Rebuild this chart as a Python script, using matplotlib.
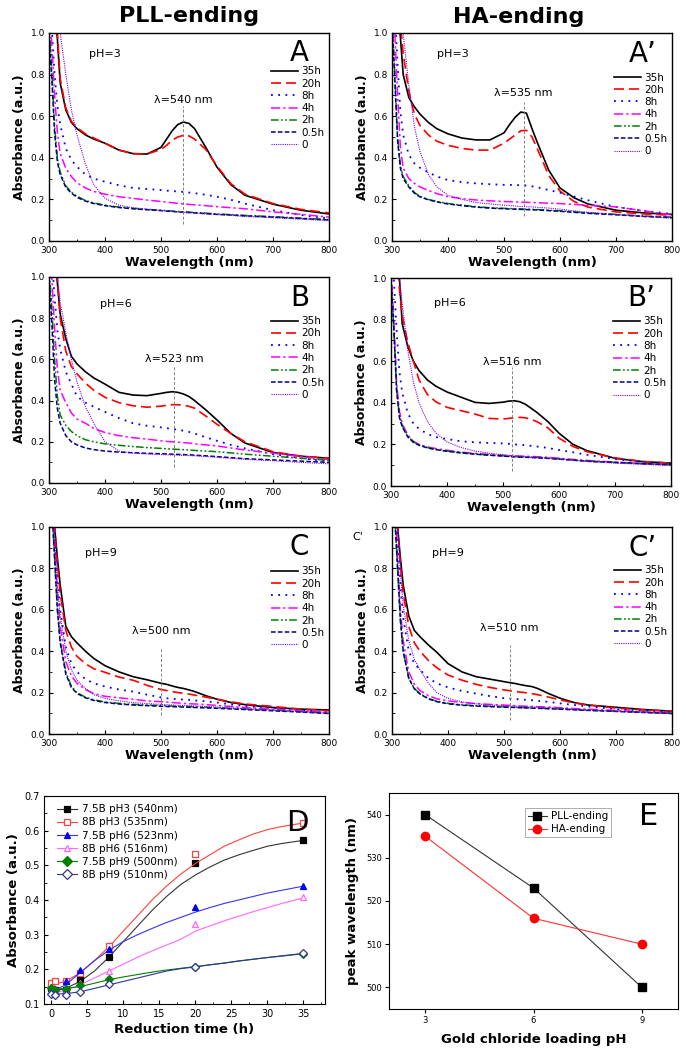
import matplotlib
matplotlib.use("Agg")
import matplotlib.pyplot as plt
from matplotlib.ticker import MultipleLocator

# ---------------- data ----------------
wavelength = [300, 305, 310, 315, 320, 330, 340, 350, 365, 380, 400, 425, 450, 475,
              500, 510, 520, 530, 540, 550, 560, 580, 600, 625, 650, 700, 750, 800]
times = ["35h", "20h", "8h", "4h", "2h", "0.5h", "0"]

# Panel A (PLL-ending, pH 3)
absA = [
    [1.8, 1.45, 1.15, 0.97, 0.76, 0.63, 0.57, 0.54, 0.51, 0.49, 0.47, 0.437, 0.42, 0.418, 0.45, 0.49, 0.53, 0.56, 0.572, 0.565, 0.54, 0.45, 0.355, 0.27, 0.22, 0.177, 0.148, 0.13],
    [1.9, 1.5, 1.2, 1.0, 0.78, 0.64, 0.575, 0.545, 0.515, 0.495, 0.47, 0.437, 0.42, 0.418, 0.44, 0.46, 0.485, 0.5, 0.508, 0.505, 0.49, 0.44, 0.36, 0.275, 0.225, 0.18, 0.152, 0.135],
    [1.25, 1.02, 0.8, 0.65, 0.56, 0.445, 0.39, 0.357, 0.32, 0.3, 0.285, 0.268, 0.255, 0.25, 0.245, 0.242, 0.24, 0.238, 0.236, 0.233, 0.23, 0.222, 0.213, 0.198, 0.18, 0.148, 0.125, 0.108],
    [1.15, 0.95, 0.7, 0.52, 0.42, 0.35, 0.31, 0.28, 0.255, 0.238, 0.225, 0.213, 0.205, 0.197, 0.19, 0.187, 0.184, 0.181, 0.178, 0.176, 0.174, 0.17, 0.165, 0.16, 0.155, 0.14, 0.128, 0.115],
    [1.05, 0.82, 0.55, 0.4, 0.33, 0.265, 0.235, 0.215, 0.195, 0.183, 0.172, 0.163, 0.157, 0.152, 0.148, 0.146, 0.144, 0.142, 0.14, 0.139, 0.137, 0.134, 0.13, 0.127, 0.123, 0.117, 0.11, 0.103],
    [1.0, 0.78, 0.52, 0.38, 0.32, 0.258, 0.23, 0.21, 0.192, 0.18, 0.17, 0.161, 0.155, 0.15, 0.146, 0.144, 0.142, 0.14, 0.138, 0.137, 0.135, 0.132, 0.128, 0.125, 0.121, 0.115, 0.108, 0.101],
    [1.9, 1.6, 1.35, 1.15, 1.0, 0.8, 0.63, 0.51, 0.37, 0.27, 0.205, 0.172, 0.16, 0.153, 0.147, 0.145, 0.143, 0.14, 0.138, 0.136, 0.134, 0.13, 0.127, 0.123, 0.118, 0.112, 0.105, 0.098],
]
# Panel A' (HA-ending, pH 3)
absA2 = [
    [1.8, 1.45, 1.15, 0.98, 0.8, 0.69, 0.645, 0.61, 0.57, 0.54, 0.515, 0.495, 0.486, 0.486, 0.52, 0.56, 0.595, 0.62, 0.615, 0.54, 0.47, 0.34, 0.255, 0.208, 0.178, 0.148, 0.135, 0.128],
    [1.9, 1.6, 1.3, 1.05, 0.9, 0.72, 0.61, 0.555, 0.51, 0.48, 0.46, 0.445, 0.437, 0.437, 0.47, 0.49, 0.51, 0.53, 0.532, 0.5, 0.44, 0.315, 0.24, 0.19, 0.163, 0.14, 0.13, 0.124],
    [1.3, 1.1, 0.85, 0.62, 0.51, 0.415, 0.373, 0.352, 0.33, 0.31, 0.293, 0.283, 0.277, 0.273, 0.27, 0.27, 0.269, 0.268, 0.267, 0.263, 0.258, 0.245, 0.232, 0.214, 0.196, 0.164, 0.145, 0.13],
    [1.2, 1.0, 0.7, 0.45, 0.35, 0.3, 0.277, 0.26, 0.243, 0.228, 0.213, 0.204, 0.197, 0.193, 0.19, 0.189, 0.188, 0.187, 0.186, 0.185, 0.184, 0.182, 0.18, 0.176, 0.172, 0.164, 0.145, 0.125],
    [1.1, 0.8, 0.5, 0.36, 0.31, 0.265, 0.233, 0.215, 0.2, 0.19, 0.18, 0.172, 0.165, 0.16, 0.157, 0.156, 0.155, 0.154, 0.153, 0.152, 0.151, 0.148, 0.145, 0.14, 0.135, 0.128, 0.12, 0.115],
    [1.05, 0.78, 0.48, 0.35, 0.3, 0.26, 0.23, 0.212, 0.198, 0.188, 0.178, 0.17, 0.163, 0.158, 0.155, 0.154, 0.153, 0.152, 0.151, 0.15, 0.149, 0.146, 0.143, 0.138, 0.133, 0.126, 0.118, 0.112],
    [1.9, 1.6, 1.35, 1.15, 1.0, 0.75, 0.55, 0.43, 0.32, 0.26, 0.22, 0.2, 0.185, 0.178, 0.172, 0.17, 0.168, 0.166, 0.165, 0.164, 0.162, 0.158, 0.153, 0.145, 0.138, 0.127, 0.118, 0.11],
]
# Panel B (PLL-ending, pH 6)
absB = [
    [1.8, 1.45, 1.15, 0.97, 0.82, 0.7, 0.615, 0.578, 0.54, 0.51, 0.48, 0.44, 0.427, 0.424, 0.435, 0.44, 0.443, 0.44, 0.432, 0.42, 0.4, 0.355, 0.306, 0.24, 0.194, 0.148, 0.13, 0.12],
    [1.9, 1.5, 1.2, 1.0, 0.8, 0.64, 0.565, 0.53, 0.485, 0.45, 0.416, 0.39, 0.375, 0.368, 0.373, 0.377, 0.38, 0.38, 0.378, 0.372, 0.363, 0.325, 0.285, 0.24, 0.2, 0.152, 0.13, 0.12],
    [1.3, 1.1, 0.9, 0.74, 0.65, 0.54, 0.48, 0.42, 0.39, 0.37, 0.345, 0.315, 0.29, 0.278, 0.27, 0.266, 0.263, 0.258, 0.254, 0.248, 0.24, 0.222, 0.205, 0.185, 0.168, 0.14, 0.12, 0.105],
    [1.2, 1.0, 0.75, 0.55, 0.45, 0.39, 0.34, 0.31, 0.29, 0.265, 0.245, 0.23, 0.22, 0.213, 0.205, 0.202, 0.2, 0.198, 0.196, 0.194, 0.19, 0.185, 0.18, 0.17, 0.16, 0.145, 0.128, 0.113],
    [1.05, 0.85, 0.6, 0.42, 0.33, 0.28, 0.25, 0.23, 0.21, 0.2, 0.19, 0.183, 0.177, 0.172, 0.168, 0.166, 0.165, 0.163, 0.162, 0.16, 0.158, 0.155, 0.152, 0.146, 0.14, 0.13, 0.12, 0.11],
    [1.0, 0.78, 0.5, 0.36, 0.29, 0.23, 0.2, 0.185, 0.17, 0.162, 0.155, 0.15, 0.147, 0.144, 0.142, 0.141, 0.14, 0.139, 0.138, 0.137, 0.135, 0.132, 0.128, 0.123, 0.118, 0.112, 0.106, 0.1],
    [1.9, 1.55, 1.25, 1.0, 0.88, 0.73, 0.6, 0.49, 0.37, 0.29, 0.2, 0.155, 0.145, 0.141, 0.138, 0.137, 0.136, 0.135, 0.134, 0.133, 0.132, 0.129, 0.125, 0.12, 0.115, 0.108, 0.1, 0.093],
]
# Panel B' (HA-ending, pH 6)
absB2 = [
    [1.8, 1.45, 1.15, 1.0, 0.78, 0.67, 0.6, 0.555, 0.51, 0.48, 0.452, 0.427, 0.402, 0.397, 0.403, 0.408, 0.41, 0.405, 0.393, 0.374, 0.355, 0.31, 0.254, 0.2, 0.17, 0.133, 0.117, 0.11],
    [1.9, 1.5, 1.15, 0.95, 0.82, 0.69, 0.6, 0.51, 0.44, 0.405, 0.378, 0.362, 0.346, 0.325, 0.322, 0.325, 0.328, 0.33, 0.328, 0.32, 0.31, 0.28, 0.23, 0.19, 0.165, 0.135, 0.118, 0.11],
    [1.2, 1.0, 0.75, 0.55, 0.45, 0.35, 0.3, 0.275, 0.25, 0.235, 0.226, 0.215, 0.21, 0.207, 0.205, 0.203, 0.2, 0.198, 0.196, 0.193, 0.19, 0.183, 0.173, 0.162, 0.15, 0.13, 0.115, 0.105],
    [1.05, 0.8, 0.5, 0.36, 0.3, 0.245, 0.215, 0.2, 0.188, 0.18, 0.172, 0.163, 0.157, 0.152, 0.148, 0.146, 0.145, 0.144, 0.143, 0.142, 0.141, 0.138, 0.134, 0.128, 0.123, 0.115, 0.108, 0.102],
    [1.0, 0.75, 0.46, 0.34, 0.29, 0.24, 0.212, 0.198, 0.185, 0.176, 0.168, 0.16, 0.154, 0.149, 0.145, 0.143, 0.141, 0.14, 0.139, 0.138, 0.137, 0.134, 0.13, 0.125, 0.12, 0.114, 0.108, 0.103],
    [1.0, 0.76, 0.46, 0.33, 0.285, 0.236, 0.21, 0.196, 0.183, 0.175, 0.167, 0.159, 0.153, 0.148, 0.144, 0.142, 0.14, 0.139, 0.138, 0.137, 0.136, 0.133, 0.129, 0.124, 0.119, 0.113, 0.107, 0.102],
    [1.9, 1.55, 1.25, 1.0, 0.88, 0.65, 0.5, 0.4, 0.31, 0.255, 0.212, 0.185, 0.168, 0.158, 0.15, 0.147, 0.145, 0.143, 0.141, 0.139, 0.137, 0.133, 0.13, 0.124, 0.118, 0.11, 0.104, 0.098],
]
# Panel C (PLL-ending, pH 9)
absC = [
    [1.6, 1.25, 1.0, 0.85, 0.72, 0.52, 0.47, 0.44, 0.4, 0.365, 0.33, 0.3, 0.277, 0.262, 0.245, 0.24, 0.232, 0.225, 0.22, 0.213, 0.205, 0.185, 0.168, 0.152, 0.142, 0.128, 0.12, 0.116],
    [1.6, 1.25, 1.0, 0.82, 0.68, 0.5, 0.42, 0.375, 0.34, 0.315, 0.298, 0.275, 0.26, 0.235, 0.215, 0.21, 0.205, 0.2, 0.197, 0.193, 0.188, 0.178, 0.168, 0.155, 0.145, 0.133, 0.12, 0.112],
    [1.5, 1.2, 0.95, 0.75, 0.6, 0.42, 0.34, 0.3, 0.265, 0.245, 0.229, 0.215, 0.205, 0.19, 0.177, 0.173, 0.17, 0.168, 0.166, 0.165, 0.162, 0.158, 0.152, 0.143, 0.135, 0.125, 0.115, 0.105],
    [1.45, 1.15, 0.9, 0.68, 0.52, 0.35, 0.28, 0.245, 0.215, 0.195, 0.182, 0.175, 0.168, 0.16, 0.156, 0.154, 0.152, 0.15, 0.148, 0.146, 0.145, 0.142, 0.138, 0.133, 0.128, 0.12, 0.112, 0.105],
    [1.4, 1.1, 0.85, 0.6, 0.45, 0.3, 0.23, 0.2, 0.178, 0.165, 0.155, 0.148, 0.143, 0.14, 0.137, 0.136, 0.135, 0.134, 0.133, 0.132, 0.131, 0.129, 0.127, 0.124, 0.121, 0.115, 0.108, 0.1],
    [1.4, 1.1, 0.85, 0.6, 0.44, 0.29, 0.225, 0.196, 0.175, 0.162, 0.152, 0.145, 0.14, 0.137, 0.134, 0.133, 0.132, 0.131, 0.13, 0.129, 0.128, 0.126, 0.124, 0.121, 0.118, 0.112, 0.106, 0.099],
    [1.5, 1.2, 0.95, 0.72, 0.57, 0.4, 0.31, 0.26, 0.22, 0.19, 0.172, 0.16, 0.152, 0.147, 0.143, 0.142, 0.14, 0.139, 0.138, 0.137, 0.136, 0.133, 0.13, 0.126, 0.122, 0.115, 0.108, 0.1],
]
# Panel C' (HA-ending, pH 9)
absC2 = [
    [1.6, 1.25, 1.0, 0.85, 0.72, 0.57, 0.5, 0.47, 0.43, 0.395, 0.34, 0.3, 0.277, 0.265, 0.253, 0.248, 0.244, 0.238, 0.233, 0.229, 0.22, 0.195, 0.173, 0.152, 0.14, 0.129, 0.118, 0.11],
    [1.6, 1.25, 1.0, 0.82, 0.68, 0.52, 0.44, 0.4, 0.355, 0.32, 0.285, 0.26, 0.24, 0.225, 0.213, 0.209, 0.206, 0.202, 0.199, 0.195, 0.19, 0.178, 0.165, 0.15, 0.14, 0.125, 0.116, 0.11],
    [1.5, 1.2, 0.95, 0.72, 0.56, 0.4, 0.34, 0.31, 0.27, 0.245, 0.225, 0.208, 0.195, 0.183, 0.173, 0.171, 0.169, 0.167, 0.165, 0.163, 0.16, 0.155, 0.148, 0.14, 0.133, 0.12, 0.112, 0.105],
    [1.4, 1.1, 0.85, 0.6, 0.45, 0.3, 0.24, 0.21, 0.185, 0.17, 0.16, 0.152, 0.147, 0.143, 0.14, 0.138, 0.137, 0.135, 0.134, 0.133, 0.132, 0.13, 0.127, 0.123, 0.12, 0.114, 0.107, 0.1],
    [1.35, 1.05, 0.8, 0.55, 0.4, 0.27, 0.22, 0.195, 0.172, 0.158, 0.148, 0.141, 0.137, 0.134, 0.131, 0.13, 0.129, 0.128, 0.127, 0.126, 0.125, 0.123, 0.121, 0.118, 0.115, 0.11, 0.105, 0.1],
    [1.35, 1.05, 0.8, 0.55, 0.4, 0.268, 0.218, 0.193, 0.17, 0.156, 0.146, 0.139, 0.135, 0.132, 0.13, 0.129, 0.128, 0.127, 0.126, 0.125, 0.124, 0.122, 0.12, 0.117, 0.114, 0.109, 0.104, 0.099],
    [1.6, 1.3, 1.0, 0.78, 0.62, 0.45, 0.36, 0.31, 0.245, 0.2, 0.172, 0.155, 0.146, 0.14, 0.136, 0.135, 0.134, 0.133, 0.132, 0.131, 0.13, 0.127, 0.124, 0.12, 0.116, 0.11, 0.104, 0.098],
]

peak_nm = [540, 535, 523, 516, 500, 510]
ph_labels = ["pH=3", "pH=3", "pH=6", "pH=6", "pH=9", "pH=9"]
panel_letters = ["A", "A\u2019", "B", "B\u2019", "C", "C\u2019"]
ylabels = ["Absorbance (a.u.)", "Absorbance (a.u.)", "Absorbacne (a.u.)",
           "Absorbance (a.u.)", "Absorbance (a.u.)", "Absorbance (a.u.)"]

# Panel D data
reduction_time = [0, 0.5, 2, 4, 8, 20, 35]
d_labels = ["7.5B pH3 (540nm)", "8B pH3 (535nm)", "7.5B pH6 (523nm)",
            "8B pH6 (516nm)", "7.5B pH9 (500nm)", "8B pH9 (510nm)"]
d_values = [
    [0.145, 0.14, 0.14, 0.172, 0.237, 0.507, 0.572],
    [0.162, 0.165, 0.165, 0.19, 0.267, 0.533, 0.623],
    [0.15, 0.14, 0.166, 0.198, 0.26, 0.381, 0.441],
    [0.14, 0.14, 0.14, 0.16, 0.195, 0.33, 0.41],
    [0.147, 0.14, 0.142, 0.155, 0.171, 0.208, 0.245],
    [0.13, 0.125, 0.127, 0.136, 0.157, 0.208, 0.248],
]
fit_time = [0, 2, 4, 6, 8, 10, 12, 14, 16, 18, 20, 22, 24, 26, 28, 30, 32, 35]
d_fits = [
    [0.135, 0.145, 0.165, 0.195, 0.235, 0.28, 0.325, 0.37, 0.41, 0.445, 0.472, 0.495, 0.515, 0.53, 0.543, 0.555, 0.563, 0.572],
    [0.155, 0.165, 0.19, 0.225, 0.265, 0.31, 0.355, 0.4, 0.44, 0.475, 0.505, 0.53, 0.555, 0.573, 0.59, 0.603, 0.612, 0.622],
    [0.135, 0.155, 0.19, 0.225, 0.255, 0.28, 0.3, 0.318, 0.335, 0.35, 0.365, 0.378, 0.39, 0.4, 0.41, 0.42, 0.428, 0.44],
    [0.13, 0.14, 0.155, 0.175, 0.195, 0.215, 0.235, 0.253, 0.27, 0.287, 0.31, 0.325, 0.34, 0.353, 0.366, 0.378, 0.39, 0.406],
    [0.142, 0.145, 0.15, 0.16, 0.17, 0.178, 0.185, 0.192, 0.198, 0.203, 0.208, 0.213, 0.218, 0.224, 0.229, 0.234, 0.238, 0.245],
    [0.128, 0.13, 0.135, 0.145, 0.155, 0.165, 0.175, 0.185, 0.195, 0.202, 0.207, 0.213, 0.218, 0.224, 0.229, 0.234, 0.239, 0.246],
]

# Panel E data
loading_ph = [3, 6, 9]
peak_pll = [540, 523, 500]
peak_ha = [535, 516, 510]

# ---------------- styles ----------------
line_styles = [
    dict(color="black", ls="-", lw=1.2),
    dict(color="#ff0000", ls=(0, (6, 3)), lw=1.2),
    dict(color="#0000ff", ls=(0, (1, 3)), lw=1.3),
    dict(color="#ff00ff", ls=(0, (6, 2, 1.5, 2)), lw=1.1),
    dict(color="#008000", ls=(0, (5, 1.5, 1.2, 1.5, 1.2, 1.5)), lw=1.1),
    dict(color="#000080", ls=(0, (3, 1.5)), lw=1.1),
    dict(color="#8000ff", ls=(0, (1, 1)), lw=0.8),
]

W, H = 686, 1048
fig = plt.figure(figsize=(W / 100, H / 100), dpi=100)


def box(l, t, r, b):
    return [l / W, 1 - b / H, (r - l) / W, (b - t) / H]


spec_boxes = [box(49, 33, 329, 241), box(392, 33, 672, 241),
              box(49, 277, 329, 483), box(391, 278, 671, 486),
              box(49, 527, 329, 734), box(392, 527, 672, 734)]
spectra = [absA, absA2, absB, absB2, absC, absC2]
ann_y = [0.68, 0.71, 0.60, 0.595, 0.50, 0.51]
vline_top = [0.65, 0.67, 0.57, 0.57, 0.42, 0.43]
vline_bot = [0.08, 0.12, 0.08, 0.07, 0.09, 0.07]
ph_pos = [(400, 0.90), (408, 0.90), (420, 0.87), (405, 0.88), (393, 0.875), (400, 0.875)]
leg_anchor = [0.85, 0.82, 0.82, 0.825, 0.82, 0.825]
letter_y = [0.905, 0.90, 0.90, 0.905, 0.905, 0.90]

for i, pos in enumerate(spec_boxes):
    ax = fig.add_axes(pos)
    for k, t in enumerate(times):
        ax.plot(wavelength, spectra[i][k], label=t, **line_styles[k])
    ax.set_xlim(300, 800)
    ax.set_ylim(0, 1.0)
    ax.xaxis.set_major_locator(MultipleLocator(100))
    ax.xaxis.set_minor_locator(MultipleLocator(50))
    ax.yaxis.set_major_locator(MultipleLocator(0.2))
    ax.yaxis.set_minor_locator(MultipleLocator(0.1))
    ax.set_yticklabels([f"{v:.1f}" for v in ax.get_yticks()])
    ax.tick_params(which="both", direction="in", labelsize=6.5)
    ax.tick_params(axis="x", pad=3.5)
    ax.tick_params(axis="y", pad=3)
    ax.tick_params(which="major", length=3)
    ax.tick_params(which="minor", length=1.8)
    for s in ax.spines.values():
        s.set_linewidth(1.0)
    ax.set_xlabel("Wavelength (nm)", fontsize=9.5, fontweight="bold", labelpad=1)
    ax.set_ylabel(ylabels[i], fontsize=9, fontweight="bold", labelpad=3)
    ax.vlines(peak_nm[i], vline_bot[i], vline_top[i], colors="gray", linestyles=(0, (3, 2)), lw=0.7)
    ax.text(peak_nm[i], ann_y[i], f"\u03bb={peak_nm[i]} nm", ha="center", va="center", fontsize=8)
    ax.text(ph_pos[i][0], ph_pos[i][1], ph_labels[i], ha="center", va="center", fontsize=8)
    ax.text(0.895, letter_y[i], panel_letters[i], transform=ax.transAxes, ha="center",
            va="center", fontsize=20)
    ax.legend(loc="upper right", bbox_to_anchor=(0.99, leg_anchor[i]), frameon=False,
              fontsize=7.5, handlelength=2.6, handletextpad=0.3, labelspacing=0.22,
              borderaxespad=0.0, borderpad=0.2)

fig.text(189 / W, 1 - 16 / H, "PLL-ending", ha="center", va="center", fontsize=16, fontweight="bold")
fig.text(519 / W, 1 - 17 / H, "HA-ending", ha="center", va="center", fontsize=16, fontweight="bold")
fig.text(358 / W, 1 - 537 / H, "C'", ha="center", va="center", fontsize=8)

# ---------------- Panel D ----------------
axd = fig.add_axes(box(44, 796, 325, 1004))
d_colors = ["black", "#ff4040", "#0000ff", "#ff66ff", "#008000", "#333399"]
d_line_colors = ["#333333", "#ff4040", "#3333ff", "#ff66ff", "#008000", "#333399"]
d_markers = ["s", "s", "^", "^", "D", "D"]
d_filled = [True, False, True, False, True, False]
for k in range(6):
    axd.plot(fit_time, d_fits[k], color=d_line_colors[k], lw=0.8)
    fc = d_colors[k] if d_filled[k] else "white"
    ms = 5 if d_markers[k] != "D" else 4.5
    axd.plot(reduction_time, d_values[k], ls="none", marker=d_markers[k], ms=ms,
             mfc=fc, mec=d_colors[k], mew=0.9)
handles = []
for k in range(6):
    fc = d_colors[k] if d_filled[k] else "white"
    h, = axd.plot([], [], color=d_line_colors[k], lw=0.8, marker=d_markers[k], ms=5,
                  mfc=fc, mec=d_colors[k], mew=0.9)
    handles.append(h)
axd.legend(handles, d_labels, loc="upper left", bbox_to_anchor=(0.03, 0.98), frameon=False,
           fontsize=7.5, handlelength=2.0, handletextpad=0.4, labelspacing=0.3, borderaxespad=0)
axd.set_xlim(-1, 38)
axd.set_ylim(0.1, 0.7)
axd.xaxis.set_major_locator(MultipleLocator(5))
axd.xaxis.set_minor_locator(MultipleLocator(2.5))
axd.yaxis.set_major_locator(MultipleLocator(0.1))
axd.yaxis.set_minor_locator(MultipleLocator(0.05))
axd.tick_params(which="both", direction="in", labelsize=7)
axd.tick_params(axis="x", pad=3.5)
axd.tick_params(axis="y", pad=3)
axd.tick_params(which="major", length=3)
axd.tick_params(which="minor", length=1.8)
axd.set_xlabel("Reduction time (h)", fontsize=9.5, fontweight="bold", labelpad=3)
axd.set_ylabel("Absorbance (a.u.)", fontsize=9.5, fontweight="bold", labelpad=3)
axd.text(0.9, 0.87, "D", transform=axd.transAxes, ha="center", va="center", fontsize=21)

# ---------------- Panel E ----------------
axe = fig.add_axes(box(389, 793, 678, 1009))
axe.plot(loading_ph, peak_pll, color="#333333", lw=0.8, marker="s", ms=5.5,
         mfc="black", mec="black", label="PLL-ending")
axe.plot(loading_ph, peak_ha, color="#ff3030", lw=0.8, marker="o", ms=6,
         mfc="#ff0000", mec="#ff0000", label="HA-ending")
axe.set_xlim(2, 10)
axe.set_ylim(495, 545)
axe.set_xticks(loading_ph)
axe.yaxis.set_major_locator(MultipleLocator(10))
axe.tick_params(which="both", direction="out", labelsize=6, pad=2, length=3)
axe.set_xlabel("Gold chloride loading pH", fontsize=9.5, fontweight="bold", labelpad=6)
axe.set_ylabel("peak wavelength (nm)", fontsize=9.5, fontweight="bold", labelpad=5)
leg = axe.legend(loc="upper left", bbox_to_anchor=(0.47, 0.93), fontsize=7.5, frameon=True,
                 fancybox=False, edgecolor="#888888", handlelength=1.8, handletextpad=0.4,
                 labelspacing=0.3, borderpad=0.3, borderaxespad=0)
leg.get_frame().set_linewidth(0.6)
axe.text(0.9, 0.89, "E", transform=axe.transAxes, ha="center", va="center", fontsize=22)

fig.savefig("out.png", dpi=100)
